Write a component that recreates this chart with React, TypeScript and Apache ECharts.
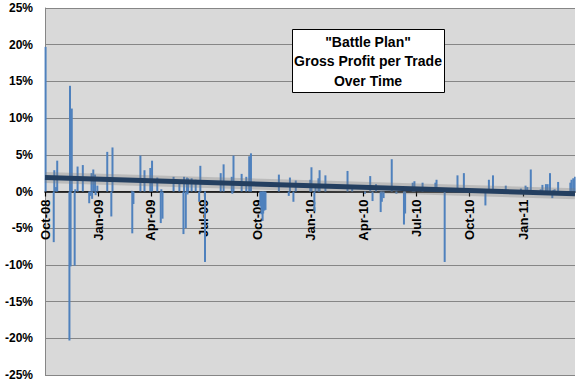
import React, { useEffect, useRef } from "react";
import * as echarts from "echarts";

const startDate = "2008-10-01";
const endDate = "2011-03-31";

const tradeDates: string[] = [
  "2008-10-02", "2008-10-16", "2008-10-17", "2008-10-20", "2008-10-22",
  "2008-11-12", "2008-11-13", "2008-11-14", "2008-11-16", "2008-11-21",
  "2008-11-22", "2008-11-26", "2008-12-05", "2008-12-16", "2008-12-18",
  "2008-12-20", "2008-12-21", "2008-12-23", "2008-12-26", "2008-12-27",
  "2008-12-30", "2009-01-16", "2009-01-23", "2009-01-25", "2009-02-27",
  "2009-02-28", "2009-03-02", "2009-03-14", "2009-03-21", "2009-03-31",
  "2009-04-03", "2009-04-12", "2009-04-18", "2009-04-19", "2009-04-21",
  "2009-05-10", "2009-05-20", "2009-05-27", "2009-05-28", "2009-05-31",
  "2009-06-02", "2009-06-03", "2009-06-04", "2009-06-10", "2009-06-17",
  "2009-06-23", "2009-06-25", "2009-07-03", "2009-07-30", "2009-08-04",
  "2009-08-18", "2009-08-19", "2009-08-21", "2009-09-04", "2009-09-12",
  "2009-09-17", "2009-09-20", "2009-10-06", "2009-10-08", "2009-10-10",
  "2009-10-11", "2009-10-13", "2009-10-15", "2009-11-07", "2009-11-24",
  "2009-11-26", "2009-12-02", "2009-12-06", "2009-12-31", "2010-01-02",
  "2010-01-07", "2010-01-09", "2010-01-14", "2010-01-16", "2010-01-26",
  "2010-03-05", "2010-03-13", "2010-04-04", "2010-04-13", "2010-04-17",
  "2010-04-23", "2010-05-01", "2010-05-03", "2010-05-06", "2010-05-20",
  "2010-05-28", "2010-06-10", "2010-06-12", "2010-06-25", "2010-06-28",
  "2010-07-12", "2010-08-03", "2010-08-05", "2010-08-19", "2010-09-10",
  "2010-09-21", "2010-10-28", "2010-11-03", "2010-11-10", "2010-12-02",
  "2010-12-28", "2011-01-05", "2011-01-08", "2011-01-14", "2011-01-31",
  "2011-02-03", "2011-02-09", "2011-02-12", "2011-02-16", "2011-02-20",
  "2011-02-22", "2011-02-24", "2011-03-02", "2011-03-23", "2011-03-25",
  "2011-03-28", "2011-03-31",
];

const tradeReturns: number[] = [
  19.7, -6.9, 2.9, 0.6, 4.2,
  -20.3, 14.4, -10.2, 11.3, -10.1,
  0.3, 3.4, 3.6, -1.6, -0.6,
  2.5, -1.0, 3.0, 2.3, -0.5,
  0.8, 5.4, -3.4, 6.0, 0.1,
  -5.7, -1.7, 4.9, 2.9, 3.2,
  4.2, 1.9, -4.3, 0.3, -3.7,
  2.0, 1.2, -5.8, 2.0, -5.0,
  1.9, -0.4, 1.8, 1.8, 1.6,
  -1.4, 3.5, -9.6, 2.5, 3.7,
  2.0, -0.3, 4.9, 2.4, 2.0,
  4.8, 5.2, -2.0, -3.1, -4.0,
  -3.0, -2.6, -2.5, 2.3, -0.6,
  1.9, -1.4, 1.5, 1.6, 3.3,
  -2.7, 0.5, 1.8, 2.9, 2.2,
  2.8, 0.8, -0.3, 2.1, -1.3,
  1.0, -2.8, -1.4, -0.9, 4.4,
  -0.3, -4.5, -3.0, 1.2, 1.4,
  1.2, 1.2, 1.6, -9.6, 2.2,
  2.5, -1.9, 1.6, 2.2, 0.8,
  0.4, 0.8, 0.6, 3.0, 0.3,
  0.9, 1.0, 1.0, 2.5, -0.9,
  0.2, 0.3, 1.3, 1.2, 1.6,
  1.8, 2.0,
];

const trendStart = 1.9;
const trendEnd = -0.3;

const yTicks = { min: -25, max: 25, interval: 5 };
const monthNames = ["Jan", "Feb", "Mar", "Apr", "May", "Jun", "Jul", "Aug", "Sep", "Oct", "Nov", "Dec"];
const titleLines = ['"Battle Plan"', "Gross Profit per Trade", "Over Time"];

function buildDays(a: string, b: string): string[] {
  const out: string[] = [];
  const d = new Date(a + "T00:00:00Z");
  const e = new Date(b + "T00:00:00Z");
  while (d.getTime() <= e.getTime()) {
    out.push(d.toISOString().slice(0, 10));
    d.setUTCDate(d.getUTCDate() + 1);
  }
  return out;
}

function isQuarterStart(v: string): boolean {
  const m = parseInt(v.slice(5, 7), 10);
  return v.slice(8, 10) === "01" && (m === 1 || m === 4 || m === 7 || m === 10);
}

const W = 576;
const H = 384;
const GRID = { left: 45, right: 1, top: 8, bottom: 9 };

export default function App() {
  const ref = useRef<HTMLDivElement>(null);
  useEffect(() => {
    if (!ref.current) return;
    const chart = echarts.init(ref.current, undefined, { renderer: "svg" });
    const days = buildDays(startDate, endDate);
    const idx: Record<string, number> = {};
    days.forEach((d, i) => (idx[d] = i));
    const barData = tradeDates.map((d, i) => [idx[d], tradeReturns[i]]);
    const trendData = [
      [0, trendStart],
      [days.length - 1, trendEnd],
    ];
    // place the category axis at the y = 0 line
    const gridH = H - GRID.top - GRID.bottom;
    const zeroFrac = (yTicks.max - 0) / (yTicks.max - yTicks.min);
    const zeroOffset = -(gridH * (1 - zeroFrac));
    const font = "'Liberation Sans', Arial, sans-serif";
    chart.setOption({
      animation: false,
      backgroundColor: "#ffffff",
      grid: {
        left: GRID.left,
        right: GRID.right,
        top: GRID.top,
        bottom: GRID.bottom,
        containLabel: false,
        outerBoundsMode: "none",
        show: true,
        backgroundColor: "#d9d9d9",
        borderWidth: 0,
      },
      xAxis: {
        type: "category",
        data: days,
        boundaryGap: false,
        offset: zeroOffset,
        axisLine: { onZero: false, lineStyle: { color: "#000000", width: 1.5 } },
        axisTick: {
          show: true,
          interval: (i: number, v: string) => isQuarterStart(v),
          length: 5,
          lineStyle: { color: "#000000", width: 1.2 },
        },
        axisLabel: {
          interval: (i: number, v: string) => isQuarterStart(v),
          rotate: 90,
          margin: 8,
          color: "#000000",
          fontWeight: "bold",
          fontSize: 13,
          fontFamily: font,
          formatter: (v: string) => {
            const m = parseInt(v.slice(5, 7), 10);
            return monthNames[m - 1] + "-" + v.slice(2, 4);
          },
        },
        splitLine: { show: false },
      },
      yAxis: {
        type: "value",
        min: yTicks.min,
        max: yTicks.max,
        interval: yTicks.interval,
        axisLine: { show: true, lineStyle: { color: "#868686", width: 1 } },
        axisTick: { show: false },
        axisLabel: {
          formatter: (v: number) => v + "%",
          color: "#000000",
          fontWeight: "bold",
          fontSize: 12,
          fontFamily: font,
          margin: 12,
        },
        splitLine: { show: true, lineStyle: { color: "#868686", width: 1 } },
      },
      series: [
        {
          type: "bar",
          data: barData,
          barWidth: 2,
          itemStyle: { color: "#4f81bd" },
          z: 2,
        },
        {
          type: "line",
          data: trendData,
          symbol: "none",
          lineStyle: { color: "rgba(120,120,120,0.3)", width: 11 },
          z: 3,
          silent: true,
        },
        {
          type: "line",
          data: trendData,
          symbol: "none",
          lineStyle: { color: "#243f60", width: 5 },
          z: 4,
        },
      ],
      graphic: [
        {
          type: "rect",
          left: 292,
          top: 29,
          z: 100,
          shape: { width: 152, height: 63 },
          style: { fill: "#ffffff", stroke: "#000000", lineWidth: 1 },
        },
        ...titleLines.map((t, i) => ({
          type: "text",
          x: 368,
          y: 41.5 + i * 19.5,
          z: 101,
          style: {
            text: t,
            fill: "#000000",
            font: "bold 14px " + font,
            textAlign: "center",
            textVerticalAlign: "middle",
          },
        })),
      ],
    });
    return () => chart.dispose();
  }, []);
  return <div ref={ref} style={{ width: W, height: H, position: "absolute", left: 0, top: 0 }} />;
}
